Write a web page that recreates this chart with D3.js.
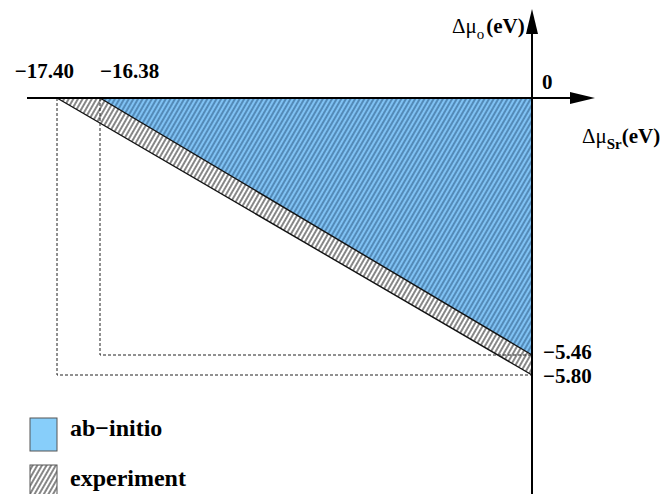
<!DOCTYPE html>
<html><head><meta charset="utf-8">
<script src="https://cdn.jsdelivr.net/npm/d3@7"></script>
<style>body{margin:0;background:#fff}svg{display:block}</style>
</head><body><svg id="c" width="670" height="494"></svg>
<script>
// Data (eV)
const xTicks = [-17.40, -16.38, 0];
const yTicks = [0, -5.46, -5.80];
const xTickLabels = ["\u221217.40", "\u221216.38"];
const yTickLabels = ["\u22125.46", "\u22125.80"];
const experiment = [[-17.40, 0], [0, 0], [0, -5.80]];
const abInitio = [[-16.38, 0], [0, 0], [0, -5.46]];
const legendLabels = ["ab\u2212initio", "experiment"];

const FONT = "Liberation Serif";
const svg = d3.select("#c");
// schematic (piecewise) scales
const x = d3.scaleLinear().domain(xTicks).range([57, 100, 532]);
const y = d3.scaleLinear().domain(yTicks).range([98, 355, 375]);

const defs = svg.append("defs");
function hatch(id, bg, fg, w) {
  const p = defs.append("pattern").attr("id", id).attr("patternUnits", "userSpaceOnUse")
    .attr("width", 4).attr("height", 4).attr("patternTransform", "rotate(30)");
  p.append("rect").attr("width", 4).attr("height", 4).attr("fill", bg);
  p.append("line").attr("x1", 1).attr("x2", 1).attr("y1", -1).attr("y2", 5)
    .attr("stroke", fg).attr("stroke-width", w);
}
hatch("hExp", "#ffffff", "#222222", 1.1);
hatch("hAb", "#80c2f4", "#35648f", 1.2);

const line = d3.line().x(d => x(d[0])).y(d => y(d[1]));

svg.append("path").attr("d", line(experiment) + "Z").attr("fill", "url(#hExp)").attr("stroke", "none");
svg.append("path").attr("d", line(abInitio) + "Z").attr("fill", "url(#hAb)").attr("stroke", "none");

svg.append("path").attr("d", line([experiment[0], experiment[2]])).attr("stroke", "#111").attr("stroke-width", 1.4).attr("fill", "none");
svg.append("path").attr("d", line([abInitio[0], abInitio[2]])).attr("stroke", "#111").attr("stroke-width", 1.4).attr("fill", "none");

[[experiment[0][0], experiment[2][1]], [abInitio[0][0], abInitio[2][1]]].forEach(([xv, yv]) => {
  svg.append("path").attr("d", line([[xv, 0], [xv, yv], [0, yv]]))
    .attr("fill", "none").attr("stroke", "#222").attr("stroke-width", 1).attr("stroke-dasharray", "3,2");
});

// axes
const x0 = x(0), y0 = y(0);
svg.append("line").attr("x1", 27).attr("x2", 575).attr("y1", y0).attr("y2", y0).attr("stroke", "#000").attr("stroke-width", 2);
svg.append("path").attr("d", `M${x0 + 63},${y0} L${x0 + 38},${y0 - 6} L${x0 + 38},${y0 + 6}Z`).attr("fill", "#000");
svg.append("line").attr("x1", x0).attr("x2", x0).attr("y1", 30).attr("y2", 494).attr("stroke", "#000").attr("stroke-width", 2);
svg.append("path").attr("d", `M${x0},9 L${x0 - 6},34 L${x0 + 6},34Z`).attr("fill", "#000");

// tick labels
const tl = svg.append("g").attr("font-family", FONT).attr("font-weight", "bold").attr("font-size", 21).attr("fill", "#000");
tl.append("text").attr("x", x(xTicks[0]) + 17).attr("y", 78).attr("text-anchor", "end").text(xTickLabels[0]);
tl.append("text").attr("x", x(xTicks[1])).attr("y", 78).attr("text-anchor", "start").text(xTickLabels[1]);
tl.append("text").attr("x", x0 + 10).attr("y", y0 - 9).text("0");
tl.append("text").attr("x", x0 + 11).attr("y", y(yTicks[1]) + 4).text(yTickLabels[0]);
tl.append("text").attr("x", x0 + 11).attr("y", y(yTicks[2]) + 8).text(yTickLabels[1]);

// axis titles
const t1 = svg.append("text").attr("font-family", FONT).attr("x", 452).attr("y", 33).attr("font-size", 21);
t1.append("tspan").text("\u0394\u03bc");
t1.append("tspan").attr("font-size", 15).attr("dy", 6).text("o");
t1.append("tspan").attr("font-weight", "bold").attr("dy", -6).attr("dx", 2).text("(eV)");
const t2 = svg.append("text").attr("font-family", FONT).attr("x", 582).attr("y", 143).attr("font-size", 21);
t2.append("tspan").text("\u0394\u03bc");
t2.append("tspan").attr("font-size", 15).attr("font-weight", "bold").attr("dy", 6).text("Sr");
t2.append("tspan").attr("font-weight", "bold").attr("dy", -6).text("(eV)");

// legend
const lg = svg.append("g").attr("font-family", FONT);
lg.append("rect").attr("x", 30).attr("y", 418).attr("width", 27).attr("height", 33).attr("fill", "#87cefa").attr("stroke", "#555").attr("stroke-width", 1);
lg.append("rect").attr("x", 30).attr("y", 465).attr("width", 27).attr("height", 33).attr("fill", "url(#hExp)").attr("stroke", "#555").attr("stroke-width", 1);
lg.append("text").attr("x", 70).attr("y", 436).attr("font-size", 24).attr("font-weight", "bold").text(legendLabels[0]);
lg.append("text").attr("x", 70).attr("y", 486).attr("font-size", 24).attr("font-weight", "bold").text(legendLabels[1]);
</script></body></html>
